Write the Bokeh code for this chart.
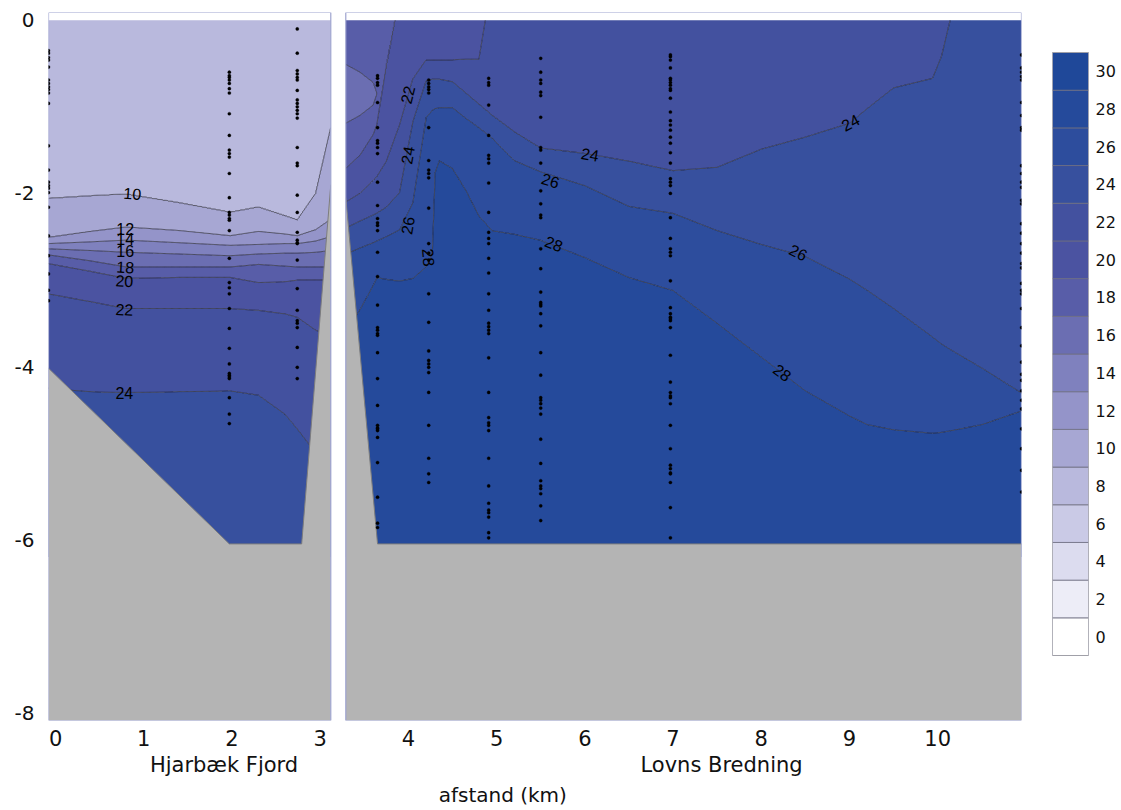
import numpy as np
from bokeh.plotting import figure
from bokeh.layouts import row
from bokeh.models import Range1d, LinearAxis, FixedTicker, ColumnDataSource
from bokeh.embed import file_html
from bokeh.resources import INLINE
from bokeh.core.properties import value

# ---------------------------------------------------------------- data
# salinity classes (0-2, 2-4, ... 30-32) and their colours
LEVELS = list(range(0, 34, 2))
PALETTE = ["#ffffff", "#ededf7", "#dcdcef", "#cacae6", "#b9b9dd", "#a7a7d3",
           "#9494c9", "#7f81be", "#6b6eb2", "#585da8", "#4b53a1", "#43519f",
           "#37509e", "#2d4d9d", "#254a9b", "#1f4899"]
LEGEND_TICKS = list(range(0, 32, 2))

X_TICKS = list(range(0, 11))
Y_TICKS = [0, -2, -4, -6, -8]
REGION_NAMES = ["Hjarbæk Fjord", "Lovns Bredning"]
X_TITLE = "afstand (km)"

# Hjarbæk Fjord: depth (m) of each salinity value at each distance (km)
FJORD_X = [-0.08, 0.40, 0.80, 1.40, 1.98, 2.30, 2.60, 2.74, 2.95, 3.12]
FJORD_SAL = [9, 10, 12, 14, 16, 18, 20, 22, 24, 25]
FJORD_DEPTH = [
    [0, 2.06, 2.51, 2.58, 2.64, 2.71, 2.81, 3.16, 4.25, 6.2],
    [0, 2.03, 2.44, 2.56, 2.66, 2.78, 2.90, 3.25, 4.29, 6.2],
    [0, 2.01, 2.39, 2.54, 2.68, 2.85, 2.98, 3.33, 4.30, 6.2],
    [0, 2.11, 2.43, 2.57, 2.70, 2.85, 2.97, 3.33, 4.29, 6.2],
    [0, 2.22, 2.49, 2.60, 2.72, 2.85, 2.97, 3.33, 4.28, 6.2],
    [0, 2.16, 2.44, 2.59, 2.70, 2.82, 3.03, 3.35, 4.33, 6.2],
    [0, 2.26, 2.47, 2.58, 2.69, 2.84, 3.02, 3.39, 4.55, 6.2],
    [0, 2.31, 2.49, 2.58, 2.69, 2.85, 3.00, 3.43, 4.72, 6.2],
    [0, 2.00, 2.42, 2.55, 2.68, 2.85, 3.00, 3.58, 5.00, 6.2],
    [0, 1.24, 2.30, 2.50, 2.66, 2.85, 3.00, 3.65, 5.10, 6.2],
]

# Lovns Bredning: same layout; negative depths lie above the water surface
LOVNS_X = [3.29, 3.45, 3.60, 3.64, 3.75, 3.90, 4.05, 4.20, 4.27, 4.30, 4.35, 4.50, 4.65,
           4.80, 4.95, 5.20, 5.50, 6.00, 6.50, 7.00, 7.50, 8.00, 8.50, 9.00, 9.20,
           9.50, 9.94, 10.04, 10.15, 10.50, 10.95]
LOVNS_SAL = [21.0, 18.0, 17.3, 18.0, 20.0, 22.0, 24.0, 26.0, 28.0, 28.6, 29.0]
LOVNS_DEPTH = [
    [-1.0, 0.51, 0.85, 1.19, 1.71, 2.10, 2.40, 2.70, 3.60, 5.0, 6.2],
    [-1.0, 0.60, 0.85, 1.10, 1.56, 2.00, 2.32, 2.63, 3.34, 5.0, 6.2],
    [-1.0, 0.72, 0.85, 0.98, 1.32, 1.85, 2.25, 2.57, 3.06, 5.0, 6.2],
    [-1.0, 0.85, 0.85, 0.85, 1.21, 1.81, 2.23, 2.55, 2.97, 5.0, 6.2],
    [-1.0, 0.49, 0.49, 0.49, 0.50, 1.63, 2.16, 2.50, 2.99, 5.0, 6.2],
    [-1.0, -0.31, -0.31, -0.31, -0.30, 1.21, 1.99, 2.42, 3.01, 5.0, 6.2],
    [-1.0, -0.41, -0.41, -0.41, -0.40, 0.68, 1.17, 2.11, 2.98, 5.0, 6.2],
    [-1.0, -0.51, -0.51, -0.51, -0.50, 0.46, 0.70, 1.12, 2.85, 4.5, 6.2],
    [-1.0, -0.51, -0.51, -0.51, -0.50, 0.46, 0.68, 1.04, 2.70, 3.6, 6.2],
    [-1.0, -0.51, -0.51, -0.51, -0.50, 0.46, 0.68, 1.02, 1.76, 3.0, 6.2],
    [-1.0, -0.51, -0.51, -0.51, -0.50, 0.46, 0.68, 1.01, 1.62, 3.0, 6.2],
    [-1.0, -0.51, -0.51, -0.51, -0.50, 0.46, 0.71, 1.01, 1.71, 3.0, 6.2],
    [-1.0, -0.51, -0.51, -0.51, -0.50, 0.45, 0.84, 1.13, 1.96, 3.2, 6.2],
    [-1.0, -0.51, -0.51, -0.51, -0.50, 0.45, 0.97, 1.24, 2.26, 3.4, 6.2],
    [-1.0, -0.91, -0.91, -0.91, -0.90, -0.50, 1.10, 1.36, 2.43, 3.6, 6.2],
    [-1.0, -0.91, -0.91, -0.91, -0.90, -0.50, 1.29, 1.62, 2.47, 3.8, 6.2],
    [-1.0, -0.91, -0.91, -0.91, -0.90, -0.50, 1.48, 1.75, 2.54, 4.0, 6.2],
    [-1.0, -0.91, -0.91, -0.91, -0.90, -0.50, 1.54, 1.91, 2.74, 4.3, 6.2],
    [-1.0, -0.91, -0.91, -0.91, -0.90, -0.50, 1.63, 2.15, 2.97, 4.5, 6.2],
    [-1.0, -0.91, -0.91, -0.91, -0.90, -0.50, 1.74, 2.23, 3.12, 4.7, 6.2],
    [-1.0, -0.91, -0.91, -0.91, -0.90, -0.50, 1.70, 2.43, 3.50, 5.0, 6.2],
    [-1.0, -0.91, -0.91, -0.91, -0.90, -0.50, 1.49, 2.59, 3.89, 5.3, 6.2],
    [-1.0, -0.91, -0.91, -0.91, -0.90, -0.50, 1.35, 2.73, 4.28, 5.6, 6.2],
    [-1.0, -0.91, -0.91, -0.91, -0.90, -0.50, 1.19, 2.99, 4.57, 5.8, 6.2],
    [-1.0, -0.91, -0.91, -0.91, -0.90, -0.50, 1.02, 3.12, 4.67, 5.9, 6.2],
    [-1.0, -0.91, -0.91, -0.91, -0.90, -0.50, 0.78, 3.33, 4.73, 5.9, 6.2],
    [-1.0, -0.91, -0.91, -0.91, -0.90, -0.50, 0.67, 3.66, 4.77, 5.9, 6.2],
    [-1.0, -0.91, -0.91, -0.91, -0.90, -0.50, 0.42, 3.74, 4.76, 5.9, 6.2],
    [-1.0, -0.91, -0.91, -0.91, -0.90, -0.50, -0.05, 3.81, 4.74, 5.9, 6.2],
    [-1.0, -0.91, -0.91, -0.91, -0.90, -0.60, -0.30, 4.02, 4.67, 5.9, 6.2],
    [-1.0, -0.91, -0.91, -0.91, -0.90, -0.70, -0.50, 4.31, 4.51, 5.9, 6.2],
]

# bottom profile (distance km, depth m)
FJORD_BOTTOM_X = [-0.08, 1.97, 2.79, 3.12]
FJORD_BOTTOM_D = [4.02, 6.05, 6.05, 1.90]
LOVNS_BOTTOM_X = [3.29, 3.65, 10.95]
LOVNS_BOTTOM_D = [2.05, 6.05, 6.05]

# measurement depths at each station
STATION_X = [-0.08, 1.97, 2.74, 3.65, 4.23, 4.91, 5.50, 6.97, 10.95]
STATION_DEPTHS = [
    [0.35, 0.38, 0.43, 0.46, 0.54, 0.69, 0.73, 0.77, 0.80, 0.84, 0.96, 1.45, 1.73, 1.87, 1.91, 1.94,
     1.99, 2.16, 2.49, 2.72, 2.93, 3.12, 3.24],
    [0.60, 0.64, 0.66, 0.69, 0.73, 0.79, 0.84, 1.08, 1.33, 1.50, 1.54, 1.58, 1.77, 2.05, 2.22, 2.25,
     2.29, 2.31, 2.43, 2.75, 3.03, 3.09, 3.16, 3.33, 3.56, 3.79, 3.97, 4.08, 4.10, 4.12, 4.14, 4.36,
     4.55, 4.66],
    [0.10, 0.38, 0.58, 0.62, 0.66, 0.69, 0.81, 0.92, 0.96, 1.00, 1.04, 1.08, 1.13, 1.47, 1.65, 1.68,
     2.02, 2.22, 2.45, 2.54, 2.57, 2.58, 2.77, 3.10, 3.35, 3.47, 3.50, 3.55, 3.78, 4.01, 4.14],
    [0.64, 0.67, 0.72, 0.75, 0.95, 1.24, 1.39, 1.42, 1.47, 1.54, 1.87, 2.14, 2.29, 2.34, 2.37, 2.43,
     2.68, 2.96, 3.29, 3.55, 3.58, 3.62, 3.64, 3.84, 4.14, 4.45, 4.68, 4.71, 4.72, 4.74, 4.82, 5.11,
     5.51, 5.81, 5.86],
    [0.69, 0.73, 0.77, 0.80, 0.84, 1.24, 1.62, 1.73, 1.77, 1.82, 2.17, 2.58, 2.69, 2.77, 3.16, 3.49,
     3.82, 3.93, 3.97, 4.01, 4.07, 4.30, 4.68, 5.06, 5.24, 5.34],
    [0.67, 0.72, 0.75, 0.98, 1.33, 1.56, 1.60, 1.65, 1.88, 2.22, 2.45, 2.52, 2.58, 2.75, 2.92, 3.16,
     3.35, 3.50, 3.54, 3.58, 3.62, 3.90, 4.30, 4.59, 4.65, 4.68, 4.74, 5.06, 5.38, 5.58, 5.66, 5.69,
     5.74, 5.92, 5.98],
    [0.44, 0.60, 0.69, 0.73, 0.83, 0.87, 1.12, 1.47, 1.50, 1.65, 1.97, 2.12, 2.25, 2.28, 2.64, 2.87,
     3.14, 3.26, 3.28, 3.30, 3.39, 3.53, 3.84, 4.10, 4.36, 4.39, 4.43, 4.48, 4.55, 4.84, 5.12, 5.32,
     5.38, 5.41, 5.47, 5.61, 5.78],
    [0.40, 0.42, 0.46, 0.55, 0.67, 0.69, 0.72, 0.75, 0.79, 0.81, 0.90, 1.06, 1.16, 1.21, 1.27, 1.35,
     1.42, 1.53, 1.65, 1.83, 1.87, 1.91, 2.00, 2.28, 2.52, 2.64, 2.68, 2.72, 3.01, 3.32, 3.39, 3.43,
     3.45, 3.47, 3.55, 3.87, 4.18, 4.30, 4.34, 4.36, 4.43, 4.68, 4.95, 5.14, 5.18, 5.23, 5.24, 5.34,
     5.63, 5.98],
    [0.40, 0.55, 0.60, 0.65, 0.69, 0.95, 1.10, 1.24, 1.27, 1.68, 1.77, 1.87, 1.93, 2.08, 2.12, 2.35,
     2.46, 2.58, 2.69, 2.81, 2.86, 3.04, 3.12, 3.16, 3.33, 3.55, 3.76, 3.95, 4.09, 4.16, 4.28, 4.39,
     4.49, 4.72, 4.95, 5.20, 5.45],
]

# isohaline labels: text, distance (km), depth (m), angle (deg)
LABEL_TEXT = ["10", "12", "14", "16", "18", "20", "22", "24",
              "22", "24", "26", "28", "24", "26", "28", "26", "28", "24"]
LABEL_X = [0.87, 0.79, 0.79, 0.79, 0.79, 0.78, 0.78, 0.78,
           3.99, 3.99, 3.99, 4.23, 6.06, 5.61, 5.65, 8.42, 8.24, 9.01]
LABEL_D = [2.00, 2.41, 2.53, 2.67, 2.85, 3.01, 3.34, 4.31,
           0.86, 1.56, 2.37, 2.74, 1.55, 1.85, 2.58, 2.68, 4.07, 1.18]
LABEL_ANGLE = [-4, 0, 0, 0, -3, -3, -3, 0,
               76, 80, 80, -85, -10, -17, -21, -26, -37, 28]

# ---------------------------------------------------------------- layout constants
X_START, X_END = -0.08, 10.95
Y_TOP, Y_BOTTOM = 0.09, -8.09
GAP = (3.12, 3.29)
TICK_FONT = "DejaVu Sans"
BORDER_TOP, BORDER_BOTTOM = 12, 90


def section_field(xs, sal, depth_table, dx=0.01, dz=0.01):
    """Grid a section: depths of every salinity value are interpolated along
    the distance axis, then salinity is interpolated down each column."""
    xs = np.asarray(xs, dtype=float)
    table = np.asarray(depth_table, dtype=float)
    nx = int(round((xs[-1] - xs[0]) / dx)) + 1
    gx1 = np.linspace(xs[0], xs[-1], nx)
    depth = np.linspace(0.0, 6.2, int(round(6.2 / dz)) + 1)
    knots = np.column_stack([np.interp(gx1, xs, table[:, k]) for k in range(table.shape[1])])
    z = np.empty((depth.size, nx))
    for i in range(nx):
        z[:, i] = np.interp(depth, knots[i], sal)
    gx, gy = np.meshgrid(gx1, -depth)
    return gx, gy, z


p = figure(width=1040, height=810,
           x_range=Range1d(X_START, X_END), y_range=Range1d(Y_BOTTOM, Y_TOP),
           output_backend="svg", toolbar_location=None,
           min_border_left=48, min_border_right=19,
           min_border_top=BORDER_TOP, min_border_bottom=BORDER_BOTTOM)
p.xgrid.visible = False
p.ygrid.visible = False
p.outline_line_color = None

for xs, sal, table in ((FJORD_X, FJORD_SAL, FJORD_DEPTH), (LOVNS_X, LOVNS_SAL, LOVNS_DEPTH)):
    gx, gy, gz = section_field(xs, sal, table)
    p.contour(gx, gy, gz, levels=LEVELS, fill_color=PALETTE,
              line_color="#262630", line_alpha=0.9, line_width=0.8)

# sea floor
for bx, bd, x_edge in ((FJORD_BOTTOM_X, FJORD_BOTTOM_D, GAP[0]), (LOVNS_BOTTOM_X, LOVNS_BOTTOM_D, X_END)):
    by = [-d for d in bd]
    p.patch(list(bx) + [x_edge, bx[0]], by + [Y_BOTTOM, Y_BOTTOM], fill_color="#b4b4b4", line_color=None)
    p.line(bx, by, line_color="#7d7d7d", line_width=1)

# white separation between the two basins and the panel frames
p.quad(left=[GAP[0]], right=[GAP[1]], bottom=[Y_BOTTOM], top=[Y_TOP], fill_color="white", line_color=None)
p.quad(left=[X_START, GAP[1]], right=[GAP[0], X_END], bottom=[Y_BOTTOM, Y_BOTTOM], top=[Y_TOP, Y_TOP],
       fill_color=None, line_color="#9ea3cf", line_width=1.2)

# measurement points
sx, sy = [], []
for x0, depths in zip(STATION_X, STATION_DEPTHS):
    sx += [x0] * len(depths)
    sy += [-d for d in depths]
p.scatter(sx, sy, size=3.2, marker="circle", fill_color="black", line_color="black", line_width=0.3)

# isohaline labels
lab = ColumnDataSource(dict(x=LABEL_X, y=[-d for d in LABEL_D], text=LABEL_TEXT, angle=LABEL_ANGLE))
p.text(x="x", y="y", text="text", angle="angle", angle_units="deg", source=lab,
       text_font=value("Liberation Sans"), text_font_size="16px",
       text_align="center", text_baseline="middle", text_color="black")


def plain_axis(ax, size="21px", standoff=8):
    ax.axis_line_color = None
    ax.major_tick_line_color = None
    ax.minor_tick_line_color = None
    ax.major_tick_out = 0
    ax.major_tick_in = 0
    ax.minor_tick_out = 0
    ax.minor_tick_in = 0
    ax.major_label_text_font = TICK_FONT
    ax.major_label_text_font_size = size
    ax.major_label_text_color = "#111111"
    ax.major_label_standoff = standoff


xa = p.xaxis[0]
xa.ticker = FixedTicker(ticks=X_TICKS)
plain_axis(xa, "21px", 9)

name_pos = [1.91, 7.55]
names = LinearAxis(ticker=FixedTicker(ticks=name_pos),
                   major_label_overrides={name_pos[0]: REGION_NAMES[0], name_pos[1]: REGION_NAMES[1]})
plain_axis(names, "21px", 4)
p.add_layout(names, "below")

title_pos = [5.07]
title_axis = LinearAxis(ticker=FixedTicker(ticks=title_pos), major_label_overrides={title_pos[0]: X_TITLE})
plain_axis(title_axis, "20px", 3)
p.add_layout(title_axis, "below")

ya = p.yaxis[0]
ya.ticker = FixedTicker(ticks=Y_TICKS)
ya.major_label_overrides = {t: str(t) for t in Y_TICKS}
plain_axis(ya, "20px", 14)

# colour legend, its frame lined up with the section frame
BOX_TOP_PX, BOX_BOTTOM_PX = 52, 655
frame_h = 810 - BORDER_TOP - BORDER_BOTTOM
lo, hi = LEGEND_TICKS[0] - 1, LEGEND_TICKS[-1] + 1
per_px = (hi - lo) / (BOX_BOTTOM_PX - BOX_TOP_PX)
cb_top = hi + (BOX_TOP_PX - BORDER_TOP) * per_px
cb_bottom = lo - (BORDER_TOP + frame_h - BOX_BOTTOM_PX) * per_px

cb = figure(width=81, height=810, x_range=Range1d(0, 1), y_range=Range1d(cb_bottom, cb_top),
            x_axis_location=None, y_axis_location="right",
            output_backend="svg", toolbar_location=None,
            min_border_left=12, min_border_right=33,
            min_border_top=BORDER_TOP, min_border_bottom=BORDER_BOTTOM)
cb.xgrid.visible = False
cb.ygrid.visible = False
cb.outline_line_color = None
cb.quad(left=0, right=1, bottom=[v - 1 for v in LEGEND_TICKS], top=[v + 1 for v in LEGEND_TICKS],
        fill_color=PALETTE, line_color="#6e6e80", line_width=0.8)
cb.quad(left=[0], right=[1], bottom=[lo], top=[hi], fill_color=None, line_color="#a0a0a8", line_width=1)
cya = cb.yaxis[0]
cya.ticker = FixedTicker(ticks=LEGEND_TICKS)
plain_axis(cya, "16px", 7)

layout = row(p, cb)
with open("out.html", "w", encoding="utf-8") as fh:
    fh.write(file_html(layout, INLINE, title="Salinitet"))
